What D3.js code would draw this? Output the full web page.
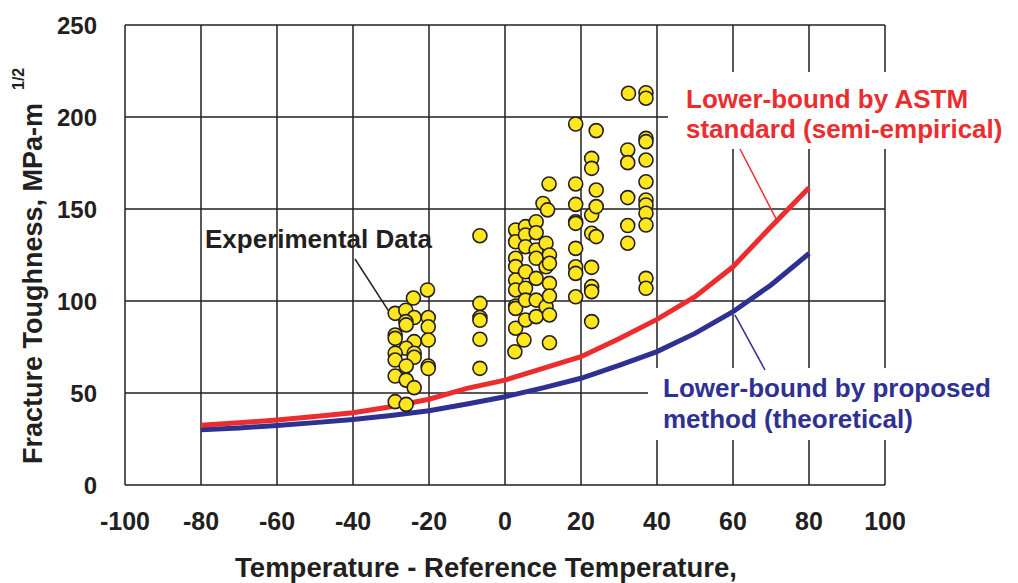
<!DOCTYPE html>
<html>
<head>
<meta charset="utf-8">
<script src="https://cdn.jsdelivr.net/npm/d3@7"></script>
<style>
    body { margin: 0; background: #fff; }
    svg text { font-family: "Liberation Sans", Arial, sans-serif; font-weight: bold; }
</style>
</head>
<body>
<div id="chart"></div>
<script>
// tick values
let xTicks = [-100, -80, -60, -40, -20, 0, 20, 40, 60, 80, 100];
let yTicks = [0, 50, 100, 150, 200, 250];

// lower bound curves (temperature, toughness)
let astmCurve = [[-80, 32.5], [-70, 33.8], [-60, 35.3], [-50, 37.2], [-40, 39.3], [-30, 42.5], [-20, 46.6],
    [-10, 52.5], [0, 57], [10, 63.4], [20, 69.7], [30, 79.5], [40, 90], [50, 102.3], [60, 118.6], [70, 140.4], [80, 161.5]];
let proposedCurve = [[-80, 30], [-70, 31], [-60, 32.4], [-50, 33.9], [-40, 35.6], [-30, 37.8], [-20, 40.4],
    [-10, 44], [0, 48], [10, 52.8], [20, 58], [30, 65], [40, 72.5], [50, 82.4], [60, 94.2], [70, 108.7], [80, 125.8]];

// experimental data points
let expData = [
    [-28.9, 93.3], [-26.1, 95], [-24.1, 101.6], [-20.4, 106], [-23.9, 91], [-26.1, 88.8], [-26, 87], [-20.2, 91],
    [-20.2, 86], [-20.2, 78.8], [-28.9, 81.5], [-28.9, 79.7], [-23.9, 77.9], [-26, 74.3], [-28.9, 71.6], [-28.9, 67.9],
    [-23.9, 71.6], [-23.9, 69.4], [-26, 64.7], [-20.2, 64.7], [-20.2, 63.3], [-28.9, 59.2], [-26, 57], [-23.9, 52.9],
    [-28.9, 45.3], [-26, 43.8],
    [-6.6, 135.5], [-6.6, 98.7], [-6.6, 91], [-6.6, 89.5], [-6.6, 79.2], [-6.6, 63.4],
    [2.8, 138.6], [2.8, 132.2], [2.8, 123.2], [2.8, 118.7], [2.8, 111.4], [2.8, 106], [2.8, 97.3], [2.8, 96],
    [2.8, 85.2], [2.6, 72.4],
    [5.4, 140.4], [5.4, 135.9], [5.4, 129.5], [5.4, 115.9], [5.4, 106.9], [5.4, 100.5], [5.4, 89.7], [5, 78.8],
    [8.2, 143.1], [8.2, 137.1], [8.2, 127.7], [8.2, 123.2], [8.2, 112.3], [8.2, 100.5], [8.2, 91.5],
    [10.8, 131.4], [10.8, 118.6], [10.8, 96.9], [10, 153], [11.6, 163.6], [11.2, 149.5],
    [11.7, 125], [11.7, 120.5], [11.7, 109.6], [11.7, 102.7], [11.7, 92.4], [11.7, 77.3],
    [18.6, 196.2], [18.6, 163.6], [18.6, 152.5], [18.6, 143.1], [18.6, 142.2], [18.6, 128.6], [18.6, 118.6],
    [18.6, 115], [18.6, 102.3],
    [22.8, 177.5], [22.8, 172.1], [22.8, 146.7], [22.8, 136.8], [22.8, 118.3], [22.8, 107.8], [22.8, 105.1], [22.8, 88.8],
    [24, 192.6], [24, 160.3], [24, 151.3], [24, 135],
    [32.5, 212.9], [32.3, 182.1], [32.3, 175.2], [32.3, 156.2], [32.3, 141], [32.3, 131.4],
    [37.1, 213.2], [37.1, 210.2], [37.1, 188.4], [37.1, 186.6], [37.1, 176.6], [37.1, 164.8], [37.1, 154.9],
    [37.1, 152.2], [37.1, 147.7], [37.1, 141.3], [37.1, 112.3], [37.1, 106.9]
];

let ink = "#231f20",
    red = "#ec2d2f",
    blue = "#2e3192";

let width = 1018, height = 583;

let svg = d3.select("#chart")
    .append("svg")
    .attr("width", width)
    .attr("height", height);

let x = d3.scaleLinear().domain([-100, 100]).range([125, 885]);
let y = d3.scaleLinear().domain([0, 250]).range([485, 25]);

// grid
svg.append("g")
    .selectAll("line")
    .data(xTicks)
    .enter()
    .append("line")
    .attr("x1", d => x(d)).attr("x2", d => x(d))
    .attr("y1", y(0)).attr("y2", y(250))
    .attr("stroke", ink)
    .attr("stroke-width", 1.5);

svg.append("g")
    .selectAll("line")
    .data(yTicks)
    .enter()
    .append("line")
    .attr("x1", x(-100)).attr("x2", x(100))
    .attr("y1", d => y(d)).attr("y2", d => y(d))
    .attr("stroke", ink)
    .attr("stroke-width", 1.5);

// tick labels
svg.append("g")
    .selectAll("text")
    .data(yTicks)
    .enter()
    .append("text")
    .attr("x", 97)
    .attr("y", d => y(d))
    .attr("dy", "0.36em")
    .attr("text-anchor", "end")
    .attr("fill", ink)
    .style("font-size", "24px")
    .text(d => d);

svg.append("g")
    .selectAll("text")
    .data(xTicks)
    .enter()
    .append("text")
    .attr("x", d => x(d))
    .attr("y", 530)
    .attr("text-anchor", "middle")
    .attr("fill", ink)
    .style("font-size", "25px")
    .text(d => d);

// axis titles
svg.append("text")
    .attr("x", 486)
    .attr("y", 577)
    .attr("text-anchor", "middle")
    .attr("fill", ink)
    .style("font-size", "27.5px")
    .text("Temperature - Reference Temperature,");

svg.append("text")
    .attr("transform", "translate(42,103) rotate(-90)")
    .attr("text-anchor", "end")
    .attr("fill", ink)
    .style("font-size", "27px")
    .text("Fracture Toughness, MPa-m");

svg.append("text")
    .attr("transform", "translate(24,90) rotate(-90)")
    .attr("text-anchor", "start")
    .attr("fill", ink)
    .style("font-size", "16px")
    .text("1/2");

// white boxes behind the curve labels
svg.append("rect")
    .attr("x", 668).attr("y", 72)
    .attr("width", 350).attr("height", 77)
    .attr("fill", "#fff");
svg.append("rect")
    .attr("x", 648).attr("y", 368)
    .attr("width", 370).attr("height", 72)
    .attr("fill", "#fff");

// curves
let line = d3.line()
    .x(d => x(d[0]))
    .y(d => y(d[1]));

svg.append("path")
    .datum(proposedCurve)
    .attr("fill", "none")
    .attr("stroke", blue)
    .attr("stroke-width", 5)
    .attr("d", line);

svg.append("path")
    .datum(astmCurve)
    .attr("fill", "none")
    .attr("stroke", red)
    .attr("stroke-width", 5)
    .attr("d", line);

// leader lines
svg.append("line")
    .attr("x1", 355).attr("y1", 259)
    .attr("x2", x(-29.5)).attr("y2", y(91))
    .attr("stroke", ink).attr("stroke-width", 1.5);
svg.append("line")
    .attr("x1", 740).attr("y1", 149)
    .attr("x2", x(71.5)).attr("y2", y(144))
    .attr("stroke", red).attr("stroke-width", 1.5);
svg.append("line")
    .attr("x1", 765).attr("y1", 370)
    .attr("x2", x(60.5)).attr("y2", y(92.5))
    .attr("stroke", blue).attr("stroke-width", 1.5);

// experimental points
svg.append("g")
    .selectAll("circle")
    .data(expData)
    .enter()
    .append("circle")
    .attr("cx", d => x(d[0]))
    .attr("cy", d => y(d[1]))
    .attr("r", 7)
    .attr("fill", "#ffe61e")
    .attr("stroke", ink)
    .attr("stroke-width", 1.6);

// labels
svg.append("text")
    .attr("x", 205).attr("y", 248)
    .attr("fill", ink)
    .style("font-size", "26px")
    .text("Experimental Data");

let astmLabel = svg.append("text")
    .attr("fill", red)
    .style("font-size", "26px");
astmLabel.append("tspan").attr("x", 686).attr("y", 108).text("Lower-bound by ASTM");
astmLabel.append("tspan").attr("x", 686).attr("y", 138).text("standard (semi-empirical)");

let propLabel = svg.append("text")
    .attr("fill", blue)
    .style("font-size", "26px");
propLabel.append("tspan").attr("x", 663).attr("y", 397).text("Lower-bound by proposed");
propLabel.append("tspan").attr("x", 663).attr("y", 428).text("method (theoretical)");
</script>
</body>
</html>
